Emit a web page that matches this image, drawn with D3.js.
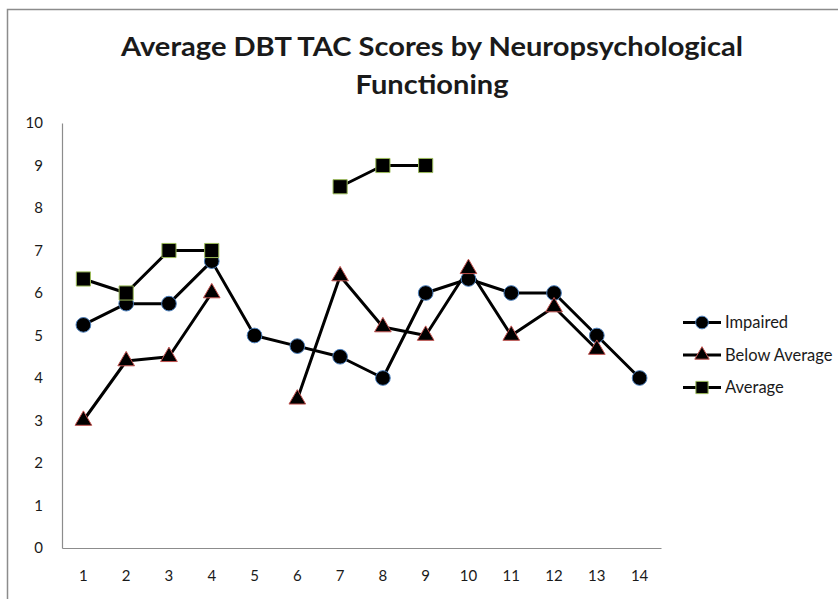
<!DOCTYPE html>
<html>
<head>
<meta charset="utf-8">
<script src="https://cdn.jsdelivr.net/npm/d3@7"></script>
<style>
  html, body { margin: 0; padding: 0; background: #fff; }
  svg { display: block; }
  text { font-family: Lato, "Open Sans", sans-serif; fill: #1a1a1a; }
</style>
</head>
<body>
<svg id="chart" width="838" height="599"></svg>
<script>
const categories = [1, 2, 3, 4, 5, 6, 7, 8, 9, 10, 11, 12, 13, 14];
const impaired     = [5.25, 5.75, 5.75, 6.75, 5, 4.75, 4.5, 4, 6, 6.33, 6, 6, 5, 4];
const belowAverage = [3, 4.4, 4.5, 6, null, 3.5, 6.4, 5.2, 5, 6.57, 5, 5.67, 4.67, null];
const average      = [6.33, 6, 7, 7, null, null, 8.5, 9, 9, null, null, null, null, null];
const yTicks = [0, 1, 2, 3, 4, 5, 6, 7, 8, 9, 10];
const seriesNames = ["Impaired", "Below Average", "Average"];
const titleLines = ["Average DBT TAC Scores by Neuropsychological", "Functioning"];

const svg = d3.select("#chart");

// chart frame
svg.append("rect")
  .attr("x", 7.5).attr("y", 9.5)
  .attr("width", 900).attr("height", 700)
  .attr("fill", "none").attr("stroke", "#8c8c8c").attr("stroke-width", 1.5);

const plot = { left: 62, right: 661, top: 123, bottom: 548 };

const x = d3.scaleBand().domain(categories).range([plot.left, plot.right]);
const cx = d => x(d) + x.bandwidth() / 2;
const y = d3.scaleLinear().domain([0, 10]).range([plot.bottom, plot.top]);

// title
svg.append("text")
  .attr("x", 432).attr("y", 56)
  .attr("text-anchor", "middle")
  .attr("font-size", 27).attr("font-weight", "bold")
  .attr("textLength", 622).attr("lengthAdjust", "spacingAndGlyphs")
  .text(titleLines[0]);
svg.append("text")
  .attr("x", 432).attr("y", 94)
  .attr("text-anchor", "middle")
  .attr("font-size", 27).attr("font-weight", "bold")
  .attr("textLength", 153).attr("lengthAdjust", "spacingAndGlyphs")
  .text(titleLines[1]);

// axes
const yAxis = d3.axisLeft(y).tickValues(yTicks).tickSize(0).tickPadding(19);
const gy = svg.append("g").attr("transform", `translate(${plot.left},0)`).call(yAxis);
gy.select(".domain").attr("stroke", "#8c8c8c").attr("stroke-width", 1.2);
gy.selectAll("text").attr("font-size", 15).attr("font-family", "Lato, sans-serif").attr("fill", "#1a1a1a");

const xAxis = d3.axisBottom(x).tickSize(0).tickPadding(22);
const gx = svg.append("g").attr("transform", `translate(0,${plot.bottom})`).call(xAxis);
gx.select(".domain").attr("stroke", "#8c8c8c").attr("stroke-width", 1.2);
gx.selectAll("text").attr("font-size", 15).attr("font-family", "Lato, sans-serif").attr("fill", "#1a1a1a");

const seriesData = [impaired, belowAverage, average];
const markerTypes = [d3.symbolCircle, d3.symbolTriangle, d3.symbolSquare];
const markerSizes = [170, 120, 200];
const markerStrokes = ["#4a7ebb", "#c0504d", "#9bbb59"];

const line = d3.line()
  .defined(d => d.v !== null)
  .x(d => cx(d.c))
  .y(d => y(d.v));

seriesData.forEach((vals, i) => {
  const pts = categories.map((c, j) => ({ c, v: vals[j] }));
  svg.append("path")
    .datum(pts)
    .attr("fill", "none")
    .attr("stroke", "#000")
    .attr("stroke-width", 3)
    .attr("stroke-linejoin", "round")
    .attr("d", line);
});

seriesData.forEach((vals, i) => {
  const pts = categories.map((c, j) => ({ c, v: vals[j] })).filter(d => d.v !== null);
  svg.append("g").selectAll("path")
    .data(pts).enter().append("path")
    .attr("transform", d => `translate(${cx(d.c)},${y(d.v)})`)
    .attr("d", d3.symbol().type(markerTypes[i]).size(markerSizes[i]))
    .attr("fill", "#000")
    .attr("stroke", markerStrokes[i])
    .attr("stroke-width", 1);
});

// legend
const legendY = [322.5, 355, 387.5];
seriesNames.forEach((name, i) => {
  const g = svg.append("g");
  g.append("line")
    .attr("x1", 683).attr("x2", 721)
    .attr("y1", legendY[i]).attr("y2", legendY[i])
    .attr("stroke", "#000").attr("stroke-width", 3);
  g.append("path")
    .attr("transform", `translate(702,${legendY[i]})`)
    .attr("d", d3.symbol().type(markerTypes[i]).size(markerSizes[i] * 0.75))
    .attr("fill", "#000")
    .attr("stroke", markerStrokes[i])
    .attr("stroke-width", 1);
  g.append("text")
    .attr("x", 725).attr("y", legendY[i])
    .attr("dy", "0.35em")
    .attr("font-size", 16.5)
    .text(name);
});
</script>
</body>
</html>
